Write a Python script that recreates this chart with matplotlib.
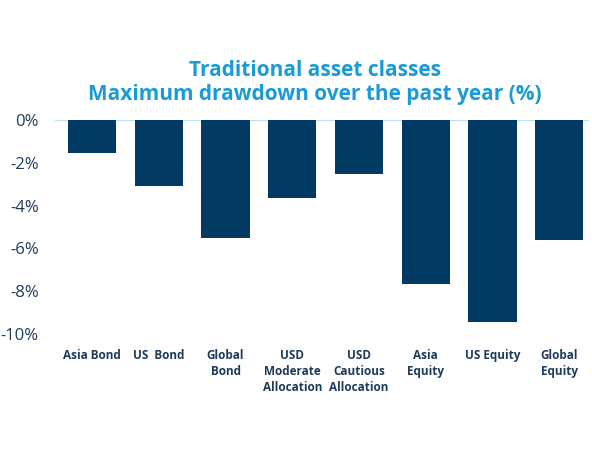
import numpy as np
import matplotlib.pyplot as plt
from matplotlib.ticker import FuncFormatter

categories = ['Asia Bond', 'US  Bond', 'Global\nBond', 'USD\nModerate\nAllocation',
              'USD\nCautious\nAllocation', 'Asia\nEquity', 'US Equity', 'Global\nEquity']
drawdown = [-1.55, -3.1, -5.5, -3.65, -2.5, -7.65, -9.45, -5.6]

navy = '#023a63'
label_col = '#1d3b5c'
title_col = '#1a9bd7'

fig = plt.figure(figsize=(5.92, 4.5), dpi=100)
ax = fig.add_axes([0.0934, 0.258, 0.902, 0.475])

x = np.arange(len(categories))
ax.bar(x, drawdown, width=0.72, color=navy, zorder=2)
ax.axhline(0, color='#bfe0f4', lw=1.5, zorder=1)

ax.set_xlim(-0.55, len(categories) - 0.55)
ax.set_ylim(-10, 0)
ax.set_yticks(np.arange(-10, 1, 2))
ax.yaxis.set_major_formatter(FuncFormatter(lambda v, p: '%d%%' % v))

for s in ax.spines.values():
    s.set_visible(False)
ax.tick_params(axis='both', length=0)
ax.tick_params(axis='y', labelsize=12, labelcolor=label_col, pad=12)
ax.set_xticks(x)
ax.set_xticklabels(categories, fontsize=8.5, fontweight='bold', color=label_col,
                   family='Open Sans', linespacing=1.3, va='top')
ax.tick_params(axis='x', pad=11)
for t in ax.get_yticklabels():
    t.set_family('Open Sans')

fig.text(0.532, 0.817, 'Traditional asset classes\nMaximum drawdown over the past year (%)',
         ha='center', va='center', fontsize=15, fontweight='bold', color=title_col,
         family='Open Sans', linespacing=1.2)

fig.savefig('out.png', dpi=100)
